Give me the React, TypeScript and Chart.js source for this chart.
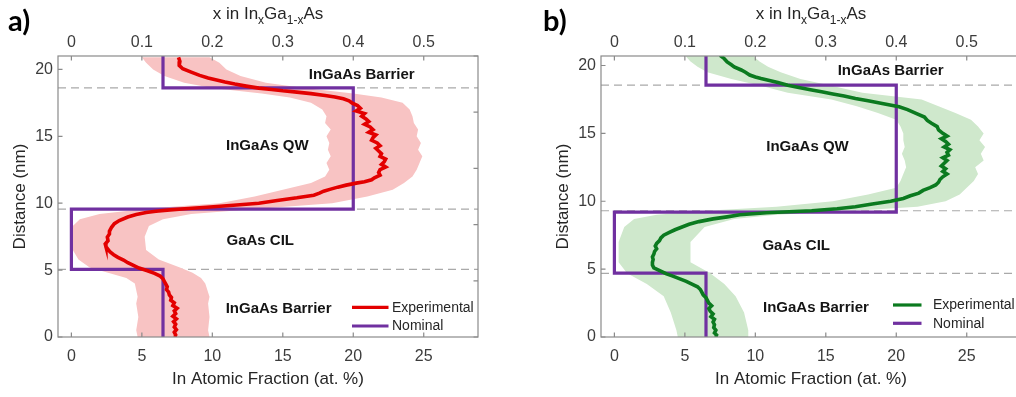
import React, { useEffect, useRef } from 'react';
import { Chart, registerables } from 'chart.js';
Chart.register(...registerables);

const FONT = '"Liberation Sans", Arial, Helvetica, sans-serif';
const PURPLE = '#7030a0';
const TEXT = '#262626';
const TICKTEXT = '#3c3c3c';
const BOX = '#8a8a8a';

// ---------- axes ----------
const xTicks = [0, 5, 10, 15, 20, 25];
const xTickLabels = ['0', '5', '10', '15', '20', '25'];
const xTopTicks = [0, 0.1, 0.2, 0.3, 0.4, 0.5];
const xTopTickLabels = ['0', '0.1', '0.2', '0.3', '0.4', '0.5'];
const yTicks = [0, 5, 10, 15, 20];
const yTickLabels = ['0', '5', '10', '15', '20'];
const rightTicks = [0, 1, 2, 3, 4, 5];
const xMin = -0.95;
const xMax = 28.85;

// ---------- panel a (red) ----------
const distA = [20.9, 20.6, 20.3, 20.05, 19.8, 19.55, 19.35, 19.2, 19.05, 18.9, 18.75, 18.6, 18.5, 18.4, 18.3, 18.19, 18.05, 17.94, 17.8, 17.65, 17.5, 17.3, 17.1, 16.9, 16.7, 16.5, 16.3, 16.1, 15.9, 15.7, 15.5, 15.3, 15.1, 14.9, 14.7, 14.5, 14.3, 14.1, 13.9, 13.7, 13.5, 13.3, 13.1, 12.9, 12.7, 12.5, 12.3, 12.1, 11.9, 11.75, 11.6, 11.5, 11.35, 11.2, 11.05, 10.9, 10.75, 10.6, 10.4, 10.2, 10.0, 9.85, 9.7, 9.6, 9.5, 9.4, 9.3, 9.15, 8.97, 8.7, 8.47, 8.2, 7.9, 7.7, 7.47, 7.2, 6.95, 6.75, 6.55, 6.35, 6.15, 5.95, 5.75, 5.55, 5.35, 5.15, 4.95, 4.75, 4.55, 4.35, 4.15, 3.95, 3.75, 3.55, 3.35, 3.15, 2.95, 2.75, 2.55, 2.35, 2.15, 1.95, 1.75, 1.55, 1.35, 1.15, 0.95, 0.75, 0.55, 0.35, 0.15, 0.0];
const expA = [7.6, 7.7, 7.65, 7.9, 8.5, 9.1, 9.7, 10.3, 10.9, 11.6, 12.4, 13.3, 14.2, 15.0, 16.0, 17.0, 18.0, 18.7, 19.3, 19.7, 19.9, 20.3, 20.5, 20.2, 20.8, 20.6, 20.9, 21.1, 20.8, 21.2, 21.4, 21.1, 21.6, 21.4, 21.3, 21.7, 21.9, 21.6, 21.8, 22.0, 21.9, 22.3, 22.2, 22.0, 22.3, 21.9, 21.8, 21.9, 21.5, 21.3, 20.8, 20.2, 19.5, 18.9, 18.4, 17.9, 17.6, 17.2, 16.0, 14.6, 13.3, 11.5, 9.6, 8.3, 7.0, 6.0, 5.3, 4.6, 4.0, 3.4, 3.05, 2.85, 2.7, 2.7, 2.55, 2.6, 2.4, 2.45, 2.6, 2.75, 3.0, 3.3, 3.7, 4.0, 4.4, 4.8, 5.4, 5.9, 6.3, 6.5, 6.6, 6.7, 6.8, 6.75, 6.9, 6.95, 7.1, 7.05, 7.3, 7.2, 7.5, 7.3, 7.4, 7.2, 7.45, 7.25, 7.4, 7.3, 7.45, 7.3, 7.4, 7.35];
const bandDistA = [0, 0.5, 1.5, 2.5, 3.0, 4.0, 4.4, 4.8, 5.2, 5.8, 6.5, 7.5, 8.3, 8.8, 9.2, 9.6, 10.0, 10.5, 11.0, 11.5, 12.0, 12.5, 13.0, 13.5, 14.0, 14.5, 15.0, 15.5, 16.0, 16.5, 17.0, 17.5, 17.9, 18.2, 18.6, 19.0, 19.5, 20.0, 20.5, 20.9];
const lowA = [4.7, 4.6, 4.75, 4.6, 4.7, 4.5, 3.9, 2.6, 1.3, 0.5, 0.1, -0.1, 0.1, 0.6, 2.0, 5.5, 10.5, 13.0, 15.0, 17.0, 18.0, 18.3, 18.1, 18.4, 18.2, 18.3, 18.1, 18.4, 18.0, 18.1, 17.8, 17.0, 15.5, 13.5, 10.0, 8.0, 6.6, 5.8, 5.3, 5.0];
const highA = [9.8, 9.7, 9.8, 9.7, 9.8, 9.5, 9.2, 8.6, 7.7, 6.2, 5.3, 5.2, 5.5, 6.5, 8.5, 13.5, 18.5, 21.0, 22.8, 23.6, 24.2, 24.5, 24.7, 24.9, 24.6, 24.8, 24.5, 24.6, 24.3, 24.2, 24.0, 23.5, 22.0, 20.0, 16.5, 13.8, 12.0, 11.0, 10.5, 9.8];
const nomXA = [6.5, 6.5, 20, 20, 0, 0, 6.5, 6.5];
const nomYA = [21, 18.62, 18.62, 9.55, 9.55, 5.05, 5.05, 0];
const dashedA = [18.62, 9.55, 5.05];

// ---------- panel b (green) ----------
const distB = [20.75, 20.5, 20.26, 20.05, 19.9, 19.67, 19.5, 19.3, 19.15, 19.04, 18.9, 18.75, 18.55, 18.4, 18.2, 18.06, 17.9, 17.75, 17.57, 17.4, 17.2, 16.96, 16.75, 16.47, 16.2, 15.95, 15.74, 15.5, 15.25, 15.0, 14.8, 14.6, 14.4, 14.2, 14.0, 13.8, 13.6, 13.4, 13.2, 13.0, 12.8, 12.6, 12.4, 12.2, 12.0, 11.8, 11.6, 11.4, 11.2, 11.0, 10.8, 10.6, 10.4, 10.2, 10.0, 9.8, 9.6, 9.45, 9.3, 9.15, 9.0, 8.85, 8.7, 8.5, 8.3, 8.1, 7.9, 7.7, 7.5, 7.3, 7.1, 6.9, 6.7, 6.5, 6.3, 6.1, 5.9, 5.7, 5.5, 5.3, 5.1, 4.95, 4.8, 4.65, 4.5, 4.3, 4.1, 3.9, 3.7, 3.5, 3.3, 3.1, 2.9, 2.7, 2.5, 2.3, 2.1, 1.9, 1.7, 1.5, 1.3, 1.1, 0.9, 0.7, 0.5, 0.3, 0.15, 0.0];
const expB = [7.5, 7.8, 8.0, 8.3, 8.5, 9.0, 9.3, 9.6, 10.0, 10.4, 11.0, 11.6, 12.3, 13.0, 14.0, 14.7, 15.5, 16.3, 17.1, 18.0, 19.0, 20.2, 20.8, 21.4, 22.0, 22.2, 22.5, 22.9, 23.0, 23.3, 23.6, 23.2, 23.5, 23.7, 23.4, 23.8, 23.6, 23.7, 23.3, 23.6, 23.4, 23.2, 23.5, 23.3, 23.6, 23.3, 23.1, 23.0, 22.8, 22.4, 21.9, 21.6, 21.0, 20.5, 19.6, 18.3, 17.1, 15.8, 14.0, 10.8, 8.9, 8.0, 7.0, 6.0, 5.3, 4.8, 4.3, 3.9, 3.5, 3.3, 3.2, 3.0, 2.9, 3.0, 2.85, 2.8, 2.7, 2.75, 2.7, 2.7, 2.8, 3.1, 3.4, 3.7, 4.1, 4.6, 5.1, 5.5, 5.9, 6.1, 6.2, 6.3, 6.5, 6.6, 6.7, 6.9, 6.7, 6.8, 7.0, 6.85, 7.1, 7.0, 7.1, 7.05, 7.2, 7.1, 7.25, 7.2];
const bandDistB = [0, 0.5, 1.8, 3.0, 3.9, 4.7, 5.5, 7.0, 8.1, 8.7, 9.0, 9.3, 9.6, 10.0, 10.5, 11.0, 11.5, 12.0, 12.5, 13.0, 13.5, 14.0, 14.5, 15.0, 15.5, 16.0, 16.5, 17.0, 17.5, 18.0, 18.5, 19.0, 19.5, 19.9, 20.3, 20.75];
const lowB = [4.5, 4.4, 4.0, 3.5, 2.3, 0.9, 0.3, 0.3, 0.7, 1.4, 3.0, 6.5, 11.5, 15.5, 18.0, 20.0, 20.3, 20.5, 20.7, 20.6, 20.4, 20.6, 20.5, 20.5, 20.3, 20.0, 18.7, 17.2, 15.4, 12.3, 10.4, 8.3, 6.6, 5.9, 5.4, 5.0];
const highB = [9.5, 9.5, 9.2, 8.6, 7.8, 6.8, 5.4, 5.4, 6.4, 8.5, 11.5, 17.0, 21.5, 23.5, 24.5, 25.0, 25.5, 25.8, 25.6, 26.2, 26.0, 26.3, 25.9, 26.2, 25.8, 25.3, 24.2, 23.0, 21.8, 17.6, 15.4, 13.2, 11.8, 10.9, 10.3, 9.8];
const nomXB = [6.5, 6.5, 20, 20, 0, 0, 6.5, 6.5];
const nomYB = [20.7, 18.55, 18.55, 9.2, 9.2, 4.7, 4.7, 0];
const dashedB = [18.55, 9.3, 4.68];

const regionLabels = ['InGaAs Barrier', 'InGaAs QW', 'GaAs CIL', 'InGaAs Barrier'];
const labelXA = [20.6, 13.9, 13.4, 14.7];
const labelYA = [19.56, 14.3, 7.2, 2.1];
const labelXB = [19.6, 13.7, 12.9, 14.3];
const labelYB = [19.6, 14.0, 6.7, 2.16];
const legendLabels = ['Experimental', 'Nominal'];

type Panel = {
  tag: string;
  tagX: number;
  yMax: number;
  dist: number[];
  exp: number[];
  bandDist: number[];
  low: number[];
  high: number[];
  nomX: number[];
  nomY: number[];
  dashed: number[];
  labX: number[];
  labY: number[];
  color: string;
  band: string;
  leg: { s1: number; s2: number; t: number; r1: number; r2: number };
};

const panelA: Panel = {
  tag: 'a)', tagX: 8, yMax: 21,
  dist: distA, exp: expA, bandDist: bandDistA, low: lowA, high: highA,
  nomX: nomXA, nomY: nomYA, dashed: dashedA, labX: labelXA, labY: labelYA,
  color: '#e30000', band: '#f8c3c3',
  leg: { s1: 126, s2: 89.5, t: 86, r1: 29.7, r2: 11 },
};
const panelB: Panel = {
  tag: 'b)', tagX: 0, yMax: 20.7,
  dist: distB, exp: expB, bandDist: bandDistB, low: lowB, high: highB,
  nomX: nomXB, nomY: nomYB, dashed: dashedB, labX: labelXB, labY: labelYB,
  color: '#0b7a1f', band: '#cfe8cc',
  leg: { s1: 128, s2: 99.5, t: 88, r1: 32, r2: 13.7 },
};

function zip(xs: number[], ys: number[]) {
  return xs.map((x, i) => ({ x, y: ys[i] }));
}

function drawTopTitle(ctx: CanvasRenderingContext2D, cx: number, base: number) {
  const parts = [
    { t: 'x in In', s: false },
    { t: 'x', s: true },
    { t: 'Ga', s: false },
    { t: '1-x', s: true },
    { t: 'As', s: false },
  ];
  const big = `17px ${FONT}`;
  const small = `12px ${FONT}`;
  let total = 0;
  const widths = parts.map((p) => {
    ctx.font = p.s ? small : big;
    const w = ctx.measureText(p.t).width;
    total += w;
    return w;
  });
  let x = cx - total / 2;
  ctx.fillStyle = TEXT;
  ctx.textAlign = 'left';
  ctx.textBaseline = 'alphabetic';
  parts.forEach((p, i) => {
    ctx.font = p.s ? small : big;
    ctx.fillText(p.t, x, p.s ? base + 5 : base);
    x += widths[i];
  });
}

function decoPlugin(p: Panel) {
  return {
    id: 'deco',
    beforeDatasetsDraw(chart: any) {
      const { ctx, chartArea: ca, scales } = chart;
      ctx.save();
      ctx.beginPath();
      ctx.rect(ca.left, ca.top, ca.right - ca.left, ca.bottom - ca.top);
      ctx.clip();
      ctx.setLineDash([8, 5]);
      ctx.strokeStyle = '#a9a9a9';
      ctx.lineWidth = 1.2;
      p.dashed.forEach((v) => {
        const y = scales.y.getPixelForValue(v);
        ctx.beginPath();
        ctx.moveTo(ca.left, y);
        ctx.lineTo(ca.right, y);
        ctx.stroke();
      });
      ctx.restore();
    },
    afterDatasetsDraw(chart: any) {
      const { ctx, scales } = chart;
      ctx.save();
      ctx.font = `bold 15px ${FONT}`;
      ctx.fillStyle = '#141414';
      ctx.textAlign = 'center';
      ctx.textBaseline = 'middle';
      regionLabels.forEach((t, i) => {
        ctx.fillText(t, scales.x.getPixelForValue(p.labX[i]), scales.y.getPixelForValue(p.labY[i]));
      });
      ctx.restore();
    },
    afterDraw(chart: any) {
      const { ctx, chartArea: ca, scales } = chart;
      ctx.save();
      // box
      ctx.strokeStyle = BOX;
      ctx.lineWidth = 1.2;
      ctx.strokeRect(ca.left, ca.top, ca.right - ca.left, ca.bottom - ca.top);
      // inward ticks
      const tl = 4.5;
      ctx.beginPath();
      xTicks.forEach((v) => {
        const x = scales.x.getPixelForValue(v);
        ctx.moveTo(x, ca.bottom);
        ctx.lineTo(x, ca.bottom - tl);
      });
      xTopTicks.forEach((v) => {
        const x = scales.x2.getPixelForValue(v);
        ctx.moveTo(x, ca.top);
        ctx.lineTo(x, ca.top + tl);
      });
      yTicks.forEach((v) => {
        const y = scales.y.getPixelForValue(v);
        ctx.moveTo(ca.left, y);
        ctx.lineTo(ca.left + tl, y);
      });
      rightTicks.forEach((v) => {
        const y = scales.y2.getPixelForValue(v);
        ctx.moveTo(ca.right, y);
        ctx.lineTo(ca.right - tl, y);
      });
      ctx.stroke();
      // legend
      const colors = [p.color, PURPLE];
      const rows = [ca.bottom - p.leg.r1, ca.bottom - p.leg.r2];
      ctx.lineWidth = 3.2;
      ctx.font = `14px ${FONT}`;
      ctx.textAlign = 'left';
      ctx.textBaseline = 'middle';
      legendLabels.forEach((t, i) => {
        ctx.strokeStyle = colors[i];
        ctx.beginPath();
        ctx.moveTo(ca.right - p.leg.s1, rows[i]);
        ctx.lineTo(ca.right - p.leg.s2, rows[i]);
        ctx.stroke();
        ctx.fillStyle = TEXT;
        ctx.fillText(t, ca.right - p.leg.t, rows[i] + 0.5);
      });
      // top title
      drawTopTitle(ctx, (ca.left + ca.right) / 2, 19);
      // panel tag
      ctx.font = `bold 29px Lato, ${FONT}`;
      ctx.fillStyle = '#000';
      ctx.textAlign = 'left';
      ctx.textBaseline = 'alphabetic';
      ctx.fillText(p.tag, p.tagX, 31);
      ctx.restore();
    },
  };
}

function makeConfig(p: Panel): any {
  const bandPoly = [
    ...p.bandDist.map((y, i) => ({ x: p.low[i], y })),
    ...p.bandDist.map((y, i) => ({ x: p.high[i], y })).reverse(),
  ];
  const tickFont = { family: FONT, size: 16 };
  const noGrid = { display: false, drawTicks: false };
  const noBorder = { display: false };
  return {
    type: 'line',
    data: {
      datasets: [
        {
          label: 'Experimental',
          data: zip(p.exp, p.dist),
          borderColor: p.color,
          borderWidth: 3.6,
          pointRadius: 0,
          fill: false,
          tension: 0,
          order: 0,
        },
        {
          label: 'Nominal',
          data: zip(p.nomX, p.nomY),
          borderColor: PURPLE,
          borderWidth: 3.2,
          pointRadius: 0,
          fill: false,
          tension: 0,
          order: 1,
        },
        {
          label: 'band',
          data: bandPoly,
          borderColor: 'rgba(0,0,0,0)',
          borderWidth: 0,
          backgroundColor: p.band,
          pointRadius: 0,
          fill: 'shape',
          tension: 0,
          order: 2,
        },
      ],
    },
    options: {
      responsive: false,
      animation: false,
      events: [],
      layout: { padding: 0 },
      plugins: { legend: { display: false }, tooltip: { enabled: false } },
      scales: {
        x: {
          type: 'linear', axis: 'x', position: 'bottom', min: xMin, max: xMax,
          grid: noGrid, border: noBorder,
          ticks: { font: tickFont, color: TICKTEXT, padding: 10, maxRotation: 0, callback: (_v: any, i: number) => xTickLabels[i] },
          afterBuildTicks: (s: any) => { s.ticks = xTicks.map((v) => ({ value: v })); },
          afterFit: (s: any) => { s.height = 60; },
          title: { display: true, text: 'In Atomic Fraction (at. %)', color: TEXT, font: { family: FONT, size: 17 }, padding: { top: 0, bottom: 7 } },
        },
        x2: {
          type: 'linear', axis: 'x', position: 'top', min: xMin / 50, max: xMax / 50,
          grid: noGrid, border: noBorder,
          ticks: { font: tickFont, color: TICKTEXT, padding: 4, maxRotation: 0, callback: (_v: any, i: number) => xTopTickLabels[i] },
          afterBuildTicks: (s: any) => { s.ticks = xTopTicks.map((v) => ({ value: v })); },
          afterFit: (s: any) => { s.height = 56; },
        },
        y: {
          type: 'linear', axis: 'y', position: 'left', min: 0, max: p.yMax,
          grid: noGrid, border: noBorder,
          ticks: { font: tickFont, color: TICKTEXT, padding: 5, callback: (_v: any, i: number) => yTickLabels[i] },
          afterBuildTicks: (s: any) => { s.ticks = yTicks.map((v) => ({ value: v })); },
          afterFit: (s: any) => { s.width = 58; },
          title: { display: true, text: 'Distance (nm)', color: TEXT, font: { family: FONT, size: 17 }, padding: { top: 10, bottom: 0 } },
        },
        y2: {
          type: 'linear', axis: 'y', position: 'right', min: 0, max: 5,
          grid: noGrid, border: noBorder,
          ticks: { display: false },
          afterBuildTicks: (s: any) => { s.ticks = rightTicks.map((v) => ({ value: v })); },
          afterFit: (s: any) => { s.width = 22; },
        },
      },
    },
    plugins: [decoPlugin(p)],
  };
}

function PanelChart({ p, left }: { p: Panel; left: number }) {
  const ref = useRef<HTMLCanvasElement>(null);
  useEffect(() => {
    const chart = new Chart(ref.current as HTMLCanvasElement, makeConfig(p));
    return () => chart.destroy();
  }, [p]);
  return (
    <canvas
      ref={ref}
      width={500}
      height={397}
      style={{ position: 'absolute', left, top: 0, width: 500, height: 397 }}
    />
  );
}

export default function App() {
  return (
    <div style={{ position: 'fixed', left: 0, top: 0, width: 1016, height: 397, overflow: 'hidden', background: '#fff' }}>
      <PanelChart p={panelA} left={0} />
      <PanelChart p={panelB} left={543} />
    </div>
  );
}
